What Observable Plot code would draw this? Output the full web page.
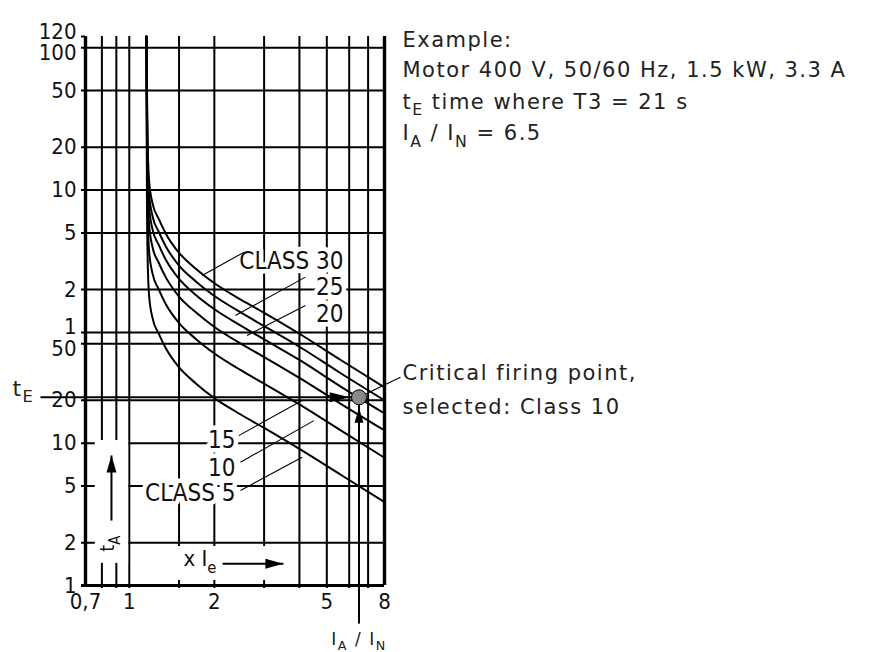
<!DOCTYPE html>
<html><head><meta charset="utf-8">
<script src="https://cdn.jsdelivr.net/npm/d3@7"></script>
<script src="https://cdn.jsdelivr.net/npm/@observablehq/plot@0.6"></script>
<style>body{margin:0;background:#fff} svg{display:block}</style>
</head><body><div id="chart"></div>
<script>
// ---- data (x = multiple of Ie, y = seconds) ----
const currents = [1.15, 1.155, 1.16, 1.175, 1.21, 1.27, 1.35, 1.49, 1.72, 1.99, 2.48, 2.98, 4.04, 5.6, 8];
const class5  = [7200, 500, 226, 109, 75, 59, 46, 34.6, 26.3, 20.9, 15.9, 12.9, 9.0, 6.0, 3.85];
const class10 = [7200, 1000, 460, 223, 154, 121, 94, 71, 54, 43, 32.6, 26.4, 18.5, 12.3, 7.9];
const class15 = [7200, 1500, 710, 343, 236, 186, 145, 109, 83, 66, 50, 40.6, 28.4, 18.9, 12.3];
const class20 = [7200, 2100, 950, 458, 315, 248, 193, 145, 110, 88, 67, 54, 38, 25, 16.2];
const class25 = [7200, 2600, 1175, 567, 390, 307, 239, 180, 137, 109, 83, 67, 47, 31, 20];
const class30 = [7200, 3200, 1450, 700, 480, 378, 294, 221, 168, 134, 102, 83, 58, 38.4, 24.7];

const gridCurrents = [0.8, 0.9, 1, 1.5, 2, 3, 4, 5, 6, 7];
const gridSeconds = [2, 5, 10, 20, 50, 60, 120, 300, 600, 1200, 3000, 6000];
const xTickValues = [0.7, 1, 2, 5, 8];
const xTickLabels = ["0,7", "1", "2", "5", "8"];
const secondTicks = [1, 2, 5, 10, 20, 50];          // seconds
const minuteTicks = [1, 2, 5, 10, 20, 50, 100, 120]; // minutes

const classLabelText = ["CLASS 30", "25", "20", "15", "10", "CLASS 5"];
const classLabelI = [5.73, 5.73, 5.73, 2.376, 2.376, 2.376];
const classLabelT = [189, 124, 80.9, 10.45, 6.69, 4.47];
const leaderFromI = [2.54, 4.2, 4.2, 2.44, 2.475, 2.475];
const leaderFromT = [219, 146.8, 92.8, 11.3, 7.35, 4.65];
const leaderToI = [1.81, 2.376, 2.61, 4.09, 4.5, 4.09];
const leaderToT = [150.8, 78.9, 57.1, 19.95, 14.4, 7.97];

const firingI = 6.5, firingT = 21;
const exampleLines = ["Example:", "Motor 400 V, 50/60 Hz, 1.5 kW, 3.3 A", "t_{E} time where T3 = 21 s", "I_{A} / I_{N} = 6.5"];
const exampleI = 9.26;
const exampleT = [6761, 4160, 2486, 1494];
const criticalLines = ["Critical firing point,", "selected: Class 10"];
const criticalT = [31.2, 18.0];
const criticalLeaderEnd = {I: 9.11, t: 29.1};
const tELabel = {I: 0.386, t: 24.2, text: "t_{E}"};
const tELineStartI = 0.485;
const iaLabel = {I: 6.5, t: 0.418, text: "I_{A} / I_{N}"};
const iaLineStartT = 0.54;
// white boxes behind the two in-plot axis captions
const boxI1 = [0.758, 1.018], boxI2 = [0.995, 3.93], boxT1 = [1.43, 1.084], boxT2 = [10.43, 1.878];
const tALabel = {I: 0.835, t: 1.97, text: "t_{A}"};
const tAArrow = {I: 0.865, t1: 2.86, t2: 8.2};
const xIeLabel = {I: 1.556, t: 1.535, text: "x I_{e}"};
const xIeArrow = {t: 1.42, I1: 2.14, I2: 3.51};

// ---- build tables ----
const classSeries = [[5, class5], [10, class10], [15, class15], [20, class20], [25, class25], [30, class30]];
const curveRows = classSeries.flatMap(([c, ts]) => currents.map((I, i) => ({cls: c, I, t: ts[i]})));
const classLabels = classLabelText.map((text, i) => ({text, I: classLabelI[i], t: classLabelT[i]}));
const leaders = leaderFromI.map((_, i) => ({x1: leaderFromI[i], y1: leaderFromT[i], x2: leaderToI[i], y2: leaderToT[i]}));
leaders.push({x1: firingI, y1: firingT, x2: criticalLeaderEnd.I, y2: criticalLeaderEnd.t});
const boxes = boxI1.map((_, i) => ({x1: boxI1[i], x2: boxI2[i], y1: boxT1[i], y2: boxT2[i]}));
const yTicks = [...secondTicks, ...minuteTicks.map(m => m * 60)];
const yFmt = s => s < 60 ? String(s) : String(s / 60);
const shiftUp = [60, 7200], shiftDown = [50, 6000];
const yNormal = yTicks.filter(s => !shiftUp.includes(s) && !shiftDown.includes(s));

const narrow = "'Liberation Sans Narrow', 'Arial Narrow', 'DejaVu Sans Condensed', 'Roboto Condensed', sans-serif";
const sans = "'DejaVu Sans', Verdana, sans-serif";

const head = (gap) => ({draw(ctx, l, r) { ctx.moveTo(-r, gap + l); ctx.lineTo(0, gap); ctx.lineTo(r, gap + l); ctx.closePath(); }});
const yLabelStyle = {y: d => d, text: yFmt, frameAnchor: "left", dx: -9, textAnchor: "end", fontSize: 22, fontFamily: narrow, fill: "#111"};

const plot = Plot.plot({
  width: 885, height: 652,
  marginLeft: 85, marginRight: 501, marginTop: 36, marginBottom: 67,
  x: {type: "log", domain: [0.7, 8], label: null, axis: null},
  y: {type: "log", domain: [1, 7200], label: null, axis: null},
  style: {background: "white", overflow: "visible"},
  marks: [
    Plot.ruleX(gridCurrents, {stroke: "black", strokeWidth: 2, insetBottom: -3}),
    Plot.ruleY(gridSeconds, {stroke: "black", strokeWidth: 2, insetLeft: -4}),
    Plot.ruleY([7200], {stroke: "black", strokeWidth: 2, insetLeft: -4, insetRight: 299}),
    Plot.rect(boxes, {x1: "x1", x2: "x2", y1: "y1", y2: "y2", fill: "white"}),
    Plot.text(classLabels, {x: "I", y: "t", text: "text", textAnchor: "end", fontSize: 24, fontFamily: narrow, fill: "white", stroke: "white", strokeWidth: 9, strokeLinejoin: "round"}),
    Plot.ruleX([0.7, 8], {stroke: "black", strokeWidth: 3.4}),
    Plot.ruleY([1], {stroke: "black", strokeWidth: 3.2, insetLeft: -4}),
    Plot.line(curveRows, {x: "I", y: "t", z: "cls", stroke: "black", strokeWidth: 2, curve: "monotone-x"}),
    Plot.link(leaders, {x1: "x1", y1: "y1", x2: "x2", y2: "y2", stroke: "black", strokeWidth: 1.1}),
    Plot.text(classLabels, {x: "I", y: "t", text: "text", textAnchor: "end", fontSize: 24, fontFamily: narrow, fill: "#111"}),
    // t_E and I_A/I_N guide lines
    Plot.link([{x1: tELineStartI, x2: firingI, y: firingT}], {x1: "x1", x2: "x2", y1: "y", y2: "y", stroke: "black", strokeWidth: 2}),
    Plot.link([{x: firingI, y1: iaLineStartT, y2: firingT}], {x1: "x", x2: "x", y1: "y1", y2: "y2", stroke: "black", strokeWidth: 2}),
    Plot.vector([{x: firingI, y: firingT}], {x: "x", y: "y", anchor: "start", rotate: 90, length: 20, r: 5, shape: head(9.3), fill: "black", stroke: "none"}),
    Plot.vector([{x: firingI, y: firingT}], {x: "x", y: "y", anchor: "start", rotate: 0, length: 15, r: 4.5, shape: head(10.5), fill: "black", stroke: "none"}),
    Plot.dot([{x: firingI, y: firingT}], {x: "x", y: "y", r: 7.5, fill: "#8a8a8a", stroke: "black", strokeWidth: 1}),
    // in-plot captions
    Plot.link([tAArrow], {x1: "I", x2: "I", y1: "t1", y2: "t2", stroke: "black", strokeWidth: 2}),
    Plot.vector([tAArrow], {x: "I", y: "t2", anchor: "start", rotate: 0, length: 17, r: 5, shape: head(0), fill: "black", stroke: "none"}),
    Plot.text([tALabel], {x: "I", y: "t", text: "text", rotate: -90, fontSize: 20, fontFamily: narrow, fill: "#111"}),
    Plot.link([xIeArrow], {x1: "I1", x2: "I2", y1: "t", y2: "t", stroke: "black", strokeWidth: 2}),
    Plot.vector([xIeArrow], {x: "I2", y: "t", anchor: "start", rotate: 90, length: 18, r: 5, shape: head(0), fill: "black", stroke: "none"}),
    Plot.text([xIeLabel], {x: "I", y: "t", text: "text", textAnchor: "start", fontSize: 22, fontFamily: narrow, fill: "#111"}),
    // outside labels
    Plot.text([tELabel], {x: "I", y: "t", text: "text", textAnchor: "start", fontSize: 22, fontFamily: sans, fill: "#222"}),
    Plot.text([iaLabel], {x: "I", y: "t", text: "text", textAnchor: "middle", fontSize: 17, fontFamily: sans, fill: "#222"}),
    Plot.text(exampleLines, {x: () => exampleI, y: (d, i) => exampleT[i], text: d => d, textAnchor: "start", fontSize: 21, fontFamily: sans, fill: "#222"}),
    Plot.text(criticalLines, {x: () => criticalLeaderEnd.I * 1.017, y: (d, i) => criticalT[i], text: d => d, textAnchor: "start", fontSize: 21, fontFamily: sans, fill: "#222"}),
    // tick labels
    Plot.text(yNormal, yLabelStyle),
    Plot.text(shiftUp, {...yLabelStyle, dy: -5}),
    Plot.text(shiftDown, {...yLabelStyle, dy: 5}),
    Plot.text(xTickValues, {x: d => d, text: (d, i) => xTickLabels[i], frameAnchor: "bottom", dy: 8, lineAnchor: "top", fontSize: 22, fontFamily: narrow, fill: "#111"})
  ]
});

// subscripts: "t_{E}" -> t + subscript E
function subscriptify(svg) {
  svg.querySelectorAll("text").forEach(t => {
    const s = t.textContent;
    if (!s.includes("_{")) return;
    while (t.firstChild) t.removeChild(t.firstChild);
    const re = /_\{([^}]*)\}/g;
    let last = 0, m, shifted = false;
    const add = (str, sub) => {
      const ts = document.createElementNS("http://www.w3.org/2000/svg", "tspan");
      ts.textContent = str;
      if (sub) { ts.setAttribute("font-size", "75%"); ts.setAttribute("dy", "0.4em"); shifted = true; }
      else if (shifted) { ts.setAttribute("dy", "-0.3em"); shifted = false; }
      t.appendChild(ts);
    };
    while ((m = re.exec(s))) {
      if (m.index > last) add(s.slice(last, m.index), false);
      add(m[1], true);
      last = re.lastIndex;
    }
    if (last < s.length) add(s.slice(last), false);
  });
}
subscriptify(plot);
plot.querySelectorAll("g[font-family]").forEach(g => {
  if (g.getAttribute("font-family").startsWith("'DejaVu Sans'")) g.setAttribute("letter-spacing", "1.5");
});
document.getElementById("chart").appendChild(plot);
</script>
</body></html>
